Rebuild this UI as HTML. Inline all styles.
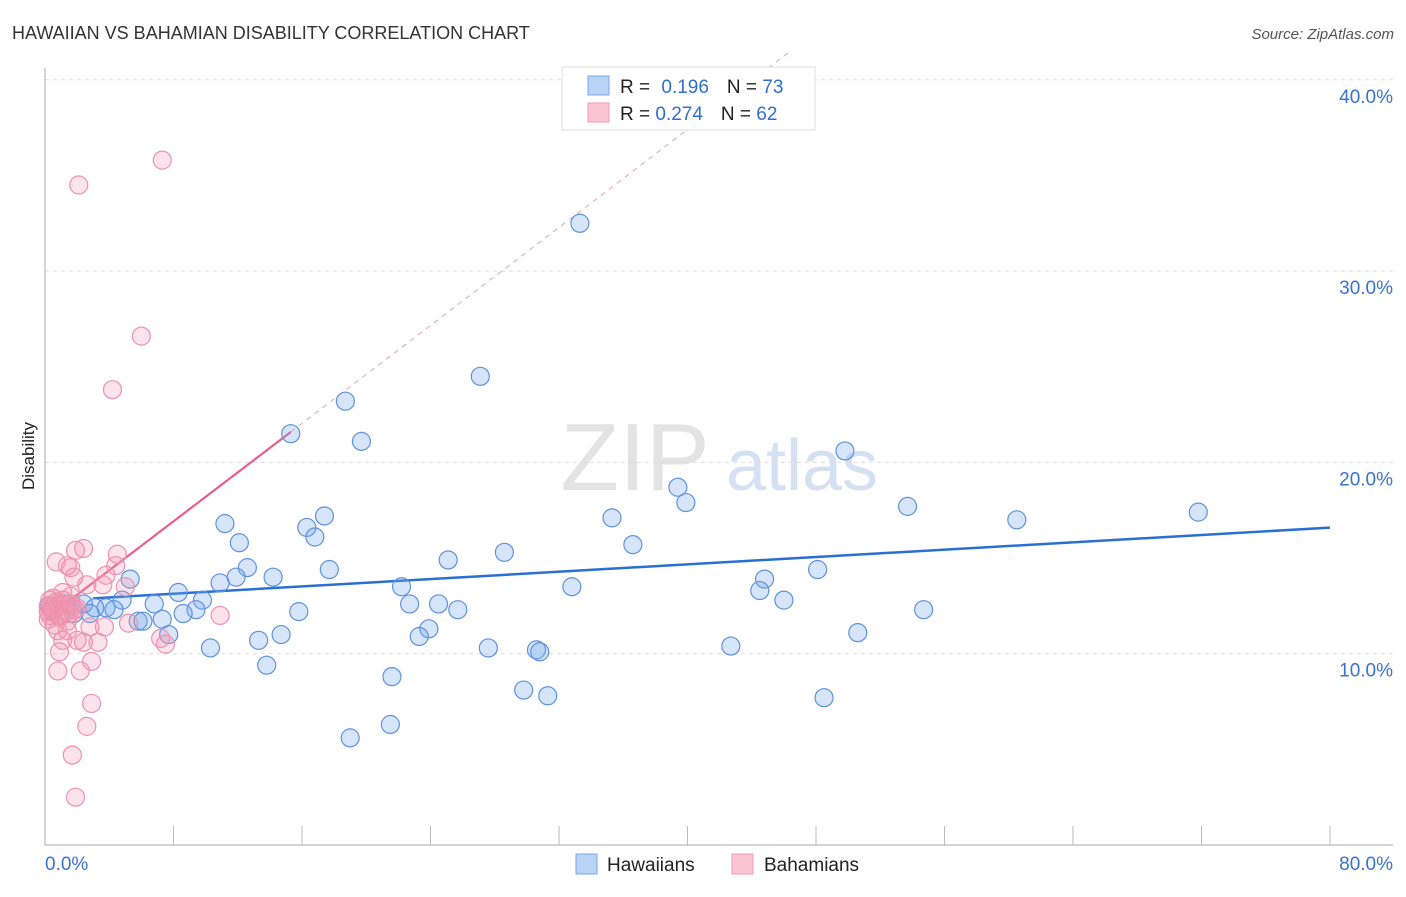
<!DOCTYPE html>
<html><head><meta charset="utf-8"><style>
body{margin:0;background:#fff;font-family:"Liberation Sans",sans-serif}
svg text{font-family:"Liberation Sans",sans-serif}
</style></head><body>
<svg id="chart" width="1406" height="892">
<text x="12" y="39" font-size="18" fill="#333">HAWAIIAN VS BAHAMIAN DISABILITY CORRELATION CHART</text>
<text x="1394" y="39" font-size="15" fill="#555" font-style="italic" text-anchor="end">Source: ZipAtlas.com</text>
<text x="0" y="0" transform="translate(34,456) rotate(-90)" font-size="17" fill="#222" text-anchor="middle">Disability</text>
<g>
<text x="635" y="490" font-size="96" fill="#ddd" font-family="Liberation Serif" text-anchor="middle" opacity="0.8">ZIP</text>
<text x="802" y="490" font-size="72" fill="#c9daf0" text-anchor="middle" opacity="0.8">atlas</text>
</g>
<g id="grid"></g><g id="axes"></g><g id="lines"></g><g id="pts"></g>
<g>
<rect x="562" y="67" width="253" height="63" fill="#fff" stroke="#ddd"/>
<rect x="588" y="76" width="21" height="19" fill="#b8d3f5" stroke="#7aa8e6"/>
<rect x="588" y="103" width="21" height="19" fill="#f9c5d4" stroke="#ee9ab4"/>
<text x="620" y="93" font-size="19" fill="#222">R = <tspan fill="#2f6fd0" dx="6">0.196</tspan><tspan dx="18" fill="#222">N = </tspan><tspan fill="#2f6fd0">73</tspan></text>
<text x="620" y="120" font-size="19" fill="#222">R = <tspan fill="#2f6fd0">0.274</tspan><tspan dx="18" fill="#222">N = </tspan><tspan fill="#2f6fd0">62</tspan></text>
</g>
<g>
<rect x="576" y="854" width="21" height="20" fill="#b8d3f5" stroke="#7aa8e6"/>
<text x="607" y="871" font-size="19" fill="#222">Hawaiians</text>
<rect x="732" y="854" width="21" height="20" fill="#f9c5d4" stroke="#ee9ab4"/>
<text x="764" y="871" font-size="19" fill="#222">Bahamians</text>
</g>
</svg>
<script>
const yTicks=[10,20,30,40];
const xTickCount=10;
const xLabels=["0.0%","80.0%"];
const hawX=[33.3,27.1,18.7,19.7,15.3,49.8,39.4,39.9,53.7,71.8,60.5,35.3,11.2,17.4,16.3,16.8,12.1,36.6,28.6,25.1,12.6,17.7,48.1,11.9,14.2,44.8,5.3,10.9,32.8,22.2,44.5,8.3,4.8,46.0,22.7,24.5,6.8,9.8,2.4,3.8,3.1,4.3,25.7,54.7,15.8,9.4,8.6,2.8,5.8,7.3,6.1,23.9,7.7,23.3,14.7,50.6,13.3,10.3,27.6,30.6,30.8,42.7,13.8,21.6,29.8,31.3,48.5,21.5,19.0,0.6,1.2,1.8,0.3];
const hawY=[32.5,24.5,23.2,21.1,21.5,20.6,18.7,17.9,17.7,17.4,17.0,17.1,16.8,17.2,16.6,16.1,15.8,15.7,15.3,14.9,14.5,14.4,14.4,14.0,14.0,13.9,13.9,13.7,13.5,13.5,13.3,13.2,12.8,12.8,12.6,12.6,12.6,12.8,12.6,12.4,12.4,12.3,12.3,12.3,12.2,12.3,12.1,12.1,11.7,11.8,11.7,11.3,11.0,10.9,11.0,11.1,10.7,10.3,10.3,10.2,10.1,10.4,9.4,8.8,8.1,7.8,7.7,6.3,5.6,12.3,12.6,12.1,12.5];
const bahX=[7.3,2.1,6.0,4.2,1.9,2.4,4.5,0.7,1.4,1.6,1.8,4.4,3.8,2.6,5.0,3.6,1.1,1.6,0.3,0.8,0.4,0.9,0.2,1.4,10.9,5.2,3.7,2.8,0.8,1.4,7.2,7.5,2.0,2.4,3.3,1.1,0.9,2.9,2.2,0.8,2.9,2.6,1.7,1.9,0.2,0.5,1.2,1.7,0.6,1.0,0.3,1.5,0.4,0.7,1.3,2.0,0.5,1.1,0.9,1.6,0.2,1.9];
const bahY=[35.8,34.5,26.6,23.8,15.4,15.5,15.2,14.8,14.6,14.5,14.0,14.6,14.1,13.6,13.5,13.6,13.2,13.0,12.8,12.5,12.2,11.9,11.8,11.7,12.0,11.6,11.4,11.4,11.2,11.2,10.8,10.5,10.7,10.6,10.6,10.7,10.1,9.6,9.1,9.1,7.4,6.2,4.7,2.5,12.5,12.9,12.3,12.5,11.5,12.6,12.0,12.1,12.4,12.7,12.2,12.4,12.3,12.8,12.0,12.6,12.2,12.3];
const hawLine=[12.75,0.048];
const bahLine=[11.8,0.64];
const X0=45,X1=1330,Y0=845,Ypx=19.13;
const sx=v=>X0+v*(X1-X0)/80, sy=v=>Y0-v*Ypx;
const NS="http://www.w3.org/2000/svg";
function mk(p,t,a){const e=document.createElementNS(NS,t);for(const k in a)e.setAttribute(k,a[k]);document.getElementById(p).appendChild(e);return e;}
yTicks.forEach(t=>{
 const l=mk('grid','line',{x1:X0,x2:1393,y1:sy(t),y2:sy(t),stroke:'#ddd','stroke-dasharray':'4,4'});
 
 
 const tx=mk('grid','text',{x:1393,y:sy(t)+23,'font-size':19,fill:'#3a72cf','text-anchor':'end'});
 tx.textContent=t.toFixed(1)+'%';
 
 
});
let a=mk('axes','line',{x1:X0,x2:X0,y1:68,y2:Y0,stroke:'#aaa'});


a=mk('axes','line',{x1:X0,x2:1393,y1:Y0,y2:Y0,stroke:'#aaa'});


for(let i=1;i<=xTickCount;i++){const xx=sx(i*8);const t=mk('axes','line',{x1:xx,x2:xx,y1:826,y2:Y0,stroke:'#bbb'});
 
 }
let t0=mk('axes','text',{x:45,y:870,'font-size':19,fill:'#3a72cf'});t0.textContent=xLabels[0];


let t1=mk('axes','text',{x:1393,y:870,'font-size':19,fill:'#3a72cf','text-anchor':'end'});t1.textContent=xLabels[1];


hawX.forEach((x,i)=>{const c=mk('pts','circle',{cx:sx(x),cy:sy(hawY[i]),r:9,fill:'rgba(120,170,235,0.3)',stroke:'#5e92dc','stroke-width':1.2});
 
 });
bahX.forEach((x,i)=>{const c=mk('pts','circle',{cx:sx(x),cy:sy(bahY[i]),r:9,fill:'rgba(245,150,180,0.28)',stroke:'#ec92ae','stroke-width':1.2});
 
 });
let l=mk('lines','line',{x1:sx(3),y1:sy(hawLine[0]+hawLine[1]*3),x2:sx(80),y2:sy(hawLine[0]+hawLine[1]*80),stroke:'#2a6fd2','stroke-width':2.5});


l=mk('lines','line',{x1:sx(0),y1:sy(bahLine[0]),x2:sx(15.3),y2:sy(bahLine[0]+bahLine[1]*15.3),stroke:'#e8608a','stroke-width':2.2});


const xe=(41.5-bahLine[0])/bahLine[1];
l=mk('lines','line',{x1:sx(15.3),y1:sy(bahLine[0]+bahLine[1]*15.3),x2:sx(xe),y2:sy(41.5),stroke:'#e8a0b8','stroke-width':1,'stroke-dasharray':'5,5'});


</script>
</body></html>
